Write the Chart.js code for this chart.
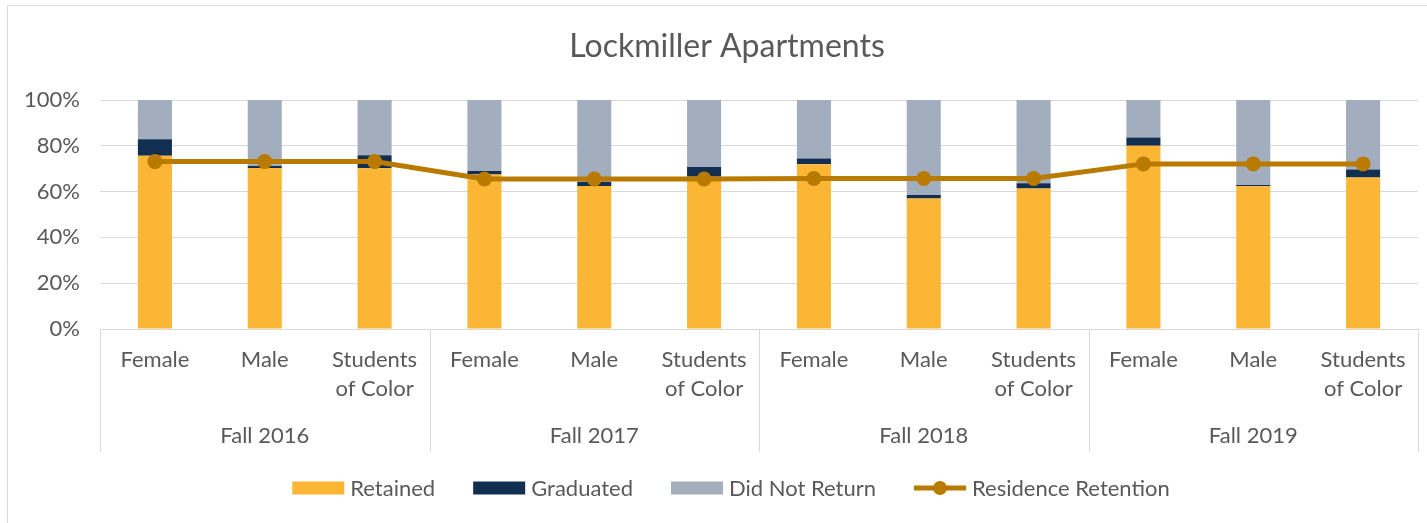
<!DOCTYPE html>
<html>
<head>
<meta charset="utf-8">
<script src="https://cdn.jsdelivr.net/npm/chart.js@4/dist/chart.umd.min.js"></script>
<style>
  html, body { margin: 0; padding: 0; background: #fff; }
  #wrap { width: 1427px; height: 523px; position: relative; }
</style>
</head>
<body>
<div id="wrap"><canvas id="chart"></canvas></div>
<script>
// --- data (percent) ---
const chartTitle = 'Lockmiller Apartments';
const groups = ['Fall 2016', 'Fall 2017', 'Fall 2018', 'Fall 2019'];
const subgroups = [['Female'], ['Male'], ['Students', 'of Color']];
const labels = groups.flatMap(() => subgroups);

const retained     = [75.7, 70.3, 70.2, 67.5, 62.4, 66.5, 71.9, 57.0, 61.3, 80.0, 62.3, 66.2];
const graduated    = [ 7.2,  0.9,  5.7,  1.5,  1.8,  4.2,  2.5,  1.5,  2.4,  3.6,  0.6,  3.4];
const didNotReturn = [17.1, 28.8, 24.1, 31.0, 35.8, 29.3, 25.6, 41.5, 36.3, 16.4, 37.1, 30.4];
const retention    = [73.1, 73.1, 73.1, 65.5, 65.5, 65.5, 65.7, 65.7, 65.7, 72.1, 72.1, 72.1];

const yTicks = [0, 20, 40, 60, 80, 100];

const FONT = 'Lato';
const TEXT = '#595959';
const GRID = '#d9d9d9';
const COLORS = { RET: '#FBB636', GRAD: '#122E50', DNR: '#A2ADBD', LINE: '#B97A00' };

// title, group separators, outer frame and legend (Excel style)
const excelBits = {
    id: 'excelBits',
    afterDraw(chart) {
        const { ctx, chartArea: a, scales } = chart;
        const x = scales.x, x2 = scales.x2;
        ctx.save();
        ctx.strokeStyle = GRID;
        ctx.lineWidth = 1;

        // frame (only top/left visible in the crop)
        ctx.beginPath();
        ctx.moveTo(7.5, chart.height); ctx.lineTo(7.5, 5.5); ctx.lineTo(chart.width, 5.5);
        ctx.stroke();

        // title, centred on the frame rather than the canvas
        ctx.fillStyle = TEXT;
        ctx.font = '32px ' + FONT;
        ctx.textAlign = 'center';
        ctx.textBaseline = 'middle';
        ctx.fillText(chartTitle, 727, 47);
        ctx.textAlign = 'left';

        // vertical separators between the year groups
        const xs = [a.left];
        for (let g = 1; g < groups.length; g++) {
            xs.push((x.getPixelForValue(g * 3 - 1) + x.getPixelForValue(g * 3)) / 2);
        }
        xs.push(a.right);
        ctx.beginPath();
        xs.forEach(px => {
            const p = Math.round(px) + 0.5;
            ctx.moveTo(p, a.bottom); ctx.lineTo(p, x2.bottom);
        });
        ctx.stroke();

        // legend
        const items = chart.data.datasets.map(d => ({ text: d.label, color: d.borderColor || d.backgroundColor, line: d.type === 'line' }))
            .sort((p, q) => (p.line ? 1 : 0) - (q.line ? 1 : 0));
        ctx.font = '22px ' + FONT;
        const boxW = 52, gap = 6, space = 38, cy = 488;
        const widths = items.map(it => boxW + gap + ctx.measureText(it.text).width);
        const total = widths.reduce((s, w) => s + w, 0) + space * (items.length - 1);
        let cx = 731 - total / 2;
        items.forEach((it, i) => {
            if (it.line) {
                ctx.strokeStyle = it.color; ctx.lineWidth = 5;
                ctx.beginPath(); ctx.moveTo(cx, cy); ctx.lineTo(cx + boxW, cy); ctx.stroke();
                ctx.fillStyle = it.color;
                ctx.beginPath(); ctx.arc(cx + boxW / 2, cy, 7, 0, Math.PI * 2); ctx.fill();
            } else {
                ctx.fillStyle = it.color;
                ctx.fillRect(cx, cy - 6.5, boxW, 13);
            }
            ctx.fillStyle = TEXT;
            ctx.fillText(it.text, cx + boxW + gap, cy + 1);
            cx += widths[i] + space;
        });
        ctx.restore();
    }
};

const bar = (label, data, color) => ({
    type: 'bar', label, data,
    backgroundColor: color,
    borderWidth: 0,
    stack: 'bars',
    order: 1,
    barPercentage: 0.31,
    categoryPercentage: 1
});

const tickFont = { family: FONT, size: 22, lineHeight: 1.32 };

new Chart(document.getElementById('chart'), {
    data: {
        labels,
        datasets: [
            bar('Retained', retained, COLORS.RET),
            bar('Graduated', graduated, COLORS.GRAD),
            bar('Did Not Return', didNotReturn, COLORS.DNR),
            {
                type: 'line', label: 'Residence Retention', data: retention,
                borderColor: COLORS.LINE, backgroundColor: COLORS.LINE,
                borderWidth: 5, pointRadius: 7.5, pointHoverRadius: 7.5,
                pointBackgroundColor: COLORS.LINE, pointBorderWidth: 0,
                tension: 0, stack: 'line', order: 0
            }
        ]
    },
    options: {
        responsive: true,
        maintainAspectRatio: false,
        animation: false,
        layout: { padding: { left: 0, right: 9, top: 100, bottom: 71 } },
        plugins: {
            legend: { display: false },
            tooltip: { enabled: false },
            title: { display: false }
        },
        scales: {
            y: {
                stacked: true, min: 0, max: 100,
                afterFit: s => { s.width = 100; },
                afterBuildTicks: s => { s.ticks = yTicks.map(v => ({ value: v })); },
                grid: { color: GRID, drawTicks: false },
                border: { display: false },
                ticks: { color: TEXT, padding: 20, font: { family: FONT, size: 22 }, callback: v => v + '%' }
            },
            x: {
                stacked: true,
                afterFit: s => { s.height = 74; },
                grid: { display: false, drawTicks: false },
                border: { display: false },
                ticks: { color: TEXT, padding: 16.5, maxRotation: 0, autoSkip: false, font: tickFont }
            },
            x2: {
                type: 'category', labels: groups, position: 'bottom', weight: 1, offset: true,
                afterFit: s => { s.height = 49; },
                grid: { display: false, drawTicks: false },
                border: { display: false },
                ticks: { color: TEXT, padding: 18.5, maxRotation: 0, font: tickFont }
            }
        }
    },
    plugins: [excelBits]
});
</script>
</body>
</html>
